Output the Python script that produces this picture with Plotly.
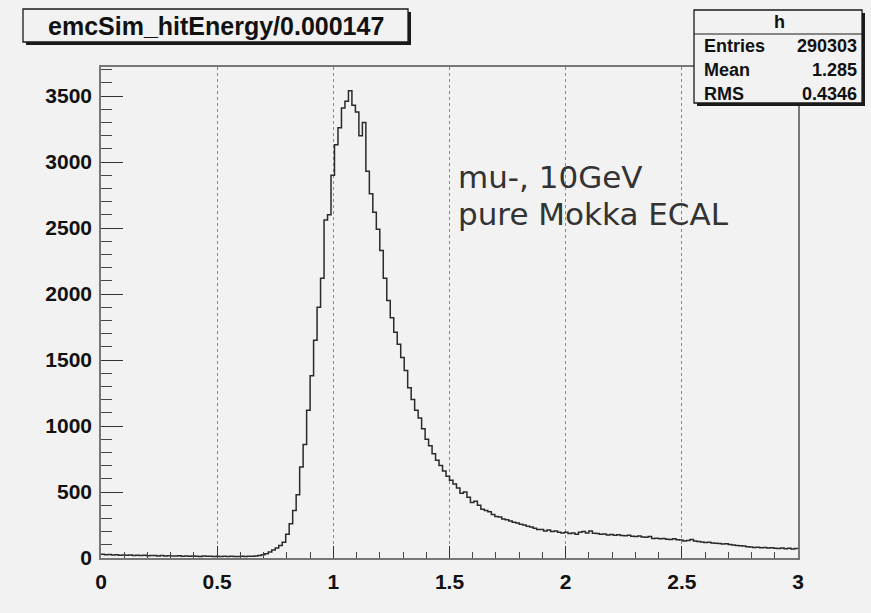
import numpy as np
import plotly.graph_objects as go

# ---------------- data ----------------
n_bins = 200
x_lo, x_hi = 0.0, 3.0
counts = [
    28, 24, 26, 22, 25, 21, 23, 20, 22, 19,
    21, 18, 20, 17, 19, 18, 16, 18, 15, 17,
    16, 15, 17, 14, 16, 13, 15, 14, 12, 15,
    13, 14, 12, 13, 11, 14, 12, 13, 12, 11,
    13, 12, 14, 13, 15, 18, 24, 32, 45, 60,
    75, 95, 120, 180, 260, 360, 480, 690, 860, 1120,
    1380, 1650, 1900, 2120, 2560, 2600, 2900, 3130, 3260, 3410,
    3460, 3540, 3430, 3380, 3200, 3300, 2930, 2760, 2620, 2490,
    2330, 2120, 1950, 1820, 1710, 1620, 1520, 1420, 1290, 1200,
    1120, 1060, 980, 900, 850, 790, 740, 700, 660, 620,
    590, 560, 530, 490, 500, 460, 420, 430, 400, 370,
    360, 350, 330, 315, 310, 295, 290, 280, 270, 265,
    255, 250, 240, 235, 225, 215, 215, 205, 212, 200,
    205, 195, 190, 195, 185, 190, 180, 195, 200, 190,
    205, 188, 185, 180, 182, 175, 178, 172, 176, 170,
    168, 172, 165, 162, 166, 160, 158, 162, 148, 150,
    145, 148, 142, 140, 146, 138, 136, 128, 132, 140,
    128, 125, 122, 118, 120, 114, 112, 110, 106, 108,
    102, 98, 95, 92, 90, 86, 83, 80, 82, 78,
    80, 76, 78, 74, 72, 75, 70, 73, 68, 72,
]
x_tick_vals = [0, 0.5, 1, 1.5, 2, 2.5, 3]
x_tick_text = ["0", "0.5", "1", "1.5", "2", "2.5", "3"]
title_text = "emcSim_hitEnergy/0.000147"
stats_name = "h"
stats_labels = ["Entries", "Mean", "RMS"]
stats_values = ["290303", "1.285", "0.4346"]
note_lines = ["mu-, 10GeV", "pure Mokka ECAL"]
y_max = 3720

# ---------------- figure ----------------
W, H = 871, 613
L, R, T, B = 101, 798, 67, 558
BG = "#f2f2f2"
FONT = "Liberation Sans, Arial, Helvetica, sans-serif"


def px(x):
    return (x - L) / (R - L)


def py(y):
    return (B - y) / (B - T)


edges = np.linspace(x_lo, x_hi, n_bins + 1)
ys = list(counts) + [counts[-1]]

fig = go.Figure()
fig.add_trace(go.Scatter(
    x=edges, y=ys, mode="lines", line=dict(color="#2a2a2a", width=1.5, shape="hv"),
    hoverinfo="skip", showlegend=False,
))

shapes = []


def box(x0, y0, x1, y1, shadow=3):
    shapes.append(dict(type="rect", xref="paper", yref="paper",
                       x0=px(x0 + shadow), x1=px(x1 + shadow), y0=py(y1 + shadow), y1=py(y0 + shadow),
                       fillcolor="#1a1a1a", line=dict(width=0), layer="above"))
    shapes.append(dict(type="rect", xref="paper", yref="paper",
                       x0=px(x0), x1=px(x1), y0=py(y1), y1=py(y0),
                       fillcolor=BG, line=dict(color="#1a1a1a", width=1.3), layer="above"))


box(23, 9, 408, 42)
box(694, 10, 862, 103)
shapes.append(dict(type="line", xref="paper", yref="paper",
                   x0=px(694), x1=px(862), y0=py(34), y1=py(34),
                   line=dict(color="#1a1a1a", width=1.2), layer="above"))

ann = []
ann.append(dict(text=f"<b>{title_text}</b>", x=px(216), y=py(26), xref="paper", yref="paper",
                showarrow=False, xanchor="center", yanchor="middle",
                font=dict(family=FONT, size=25, color="#111")))
ann.append(dict(text=f"<b>{stats_name}</b>", x=px(779), y=py(22), xref="paper", yref="paper",
                showarrow=False, xanchor="center", yanchor="middle",
                font=dict(family=FONT, size=18, color="#111")))
for i, (lab, val) in enumerate(zip(stats_labels, stats_values)):
    yy = 46 + i * 24
    ann.append(dict(text=f"<b>{lab}</b>", x=px(702), y=py(yy), xref="paper", yref="paper",
                    showarrow=False, xanchor="left", yanchor="middle",
                    font=dict(family=FONT, size=18, color="#111")))
    ann.append(dict(text=f"<b>{val}</b>", x=px(859), y=py(yy), xref="paper", yref="paper",
                    showarrow=False, xanchor="right", yanchor="middle",
                    font=dict(family=FONT, size=18, color="#111")))
for i, line in enumerate(note_lines):
    ann.append(dict(text=line, x=px(456), y=py(177 + i * 37), xref="paper", yref="paper",
                    showarrow=False, xanchor="left", yanchor="middle",
                    font=dict(family="DejaVu Sans, sans-serif", size=31, color="#333")))

fig.update_layout(
    width=W, height=H,
    margin=dict(l=L, r=W - R, t=T, b=H - B, pad=0),
    paper_bgcolor=BG, plot_bgcolor=BG,
    shapes=shapes, annotations=ann,
    showlegend=False,
)
fig.update_xaxes(
    range=[x_lo, x_hi], tickmode="array", tickvals=x_tick_vals,
    ticktext=[f"<b>{t}</b>" for t in x_tick_text],
    ticks="inside", ticklen=12, tickwidth=1.3, tickcolor="#333",
    showline=True, mirror=True, linecolor="#777", linewidth=1.6,
    showgrid=True, gridcolor="#888", griddash="dot", gridwidth=1,
    zeroline=False, ticklabelstandoff=4,
    tickfont=dict(family=FONT, size=21, color="#111"),
    minor=dict(ticks="inside", dtick=0.1, tick0=0, ticklen=6, tickcolor="#444", showgrid=False),
)
fig.update_yaxes(
    range=[0, y_max], tickmode="linear", tick0=0, dtick=500,
    ticks="inside", ticklen=22, tickwidth=1.3, tickcolor="#333",
    showline=True, mirror=True, linecolor="#777", linewidth=1.6,
    showgrid=False, zeroline=False, ticklabelstandoff=3,
    tickprefix="<b>", ticksuffix="</b>",
    tickfont=dict(family=FONT, size=21, color="#111"),
    minor=dict(ticks="inside", dtick=100, ticklen=11, tickcolor="#444", showgrid=False),
)

fig.write_html("out.html")
